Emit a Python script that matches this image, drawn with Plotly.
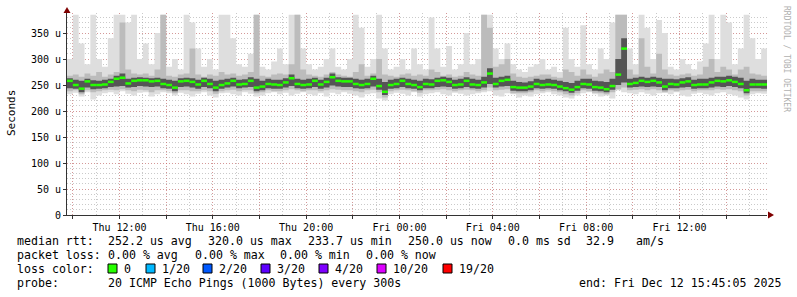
import plotly.graph_objects as go
import pandas as pd

# ---------------- data ----------------
t_start = "2025-12-11 09:45:05"
t_end = "2025-12-12 15:45:05"
step = "15min"

# median rtt (microseconds) per 15-min step
med = [258,250,243,257,250,250,251,256,262,264,253,258,259,259,257,258,252,250,245,257,
       258,256,251,258,252,245,250,253,258,251,252,258,245,247,252,251,250,255,263,252,
       250,251,258,251,256,265,258,257,257,252,250,252,262,248,237,250,252,258,252,250,
       246,252,251,258,259,256,250,251,258,251,250,255,272,252,258,260,246,245,245,247,
       252,250,251,250,247,244,241,246,252,251,246,245,242,248,270,320,252,254,258,256,
       258,255,247,252,251,255,257,250,251,251,255,258,257,259,256,252,240,251,251,251]

# smoke: outer (min..max), middle, inner bands
lo = [232,235,228,236,222,230,234,236,232,238,233,230,235,236,228,232,236,234,230,235,
      232,228,233,236,230,226,234,235,232,230,236,233,228,230,234,236,232,235,230,233,
      236,232,230,234,228,235,232,236,233,230,226,232,234,224,220,232,235,233,230,236,
      228,232,234,236,232,230,235,233,230,232,234,236,238,230,228,234,232,226,230,228,
      232,234,236,232,230,226,224,230,234,236,232,228,230,224,240,236,234,232,236,233,
      230,234,235,232,236,230,228,233,235,232,230,234,236,232,230,226,222,232,234,233]
hi = [300,385,330,290,385,300,285,340,385,385,370,385,300,330,290,350,385,285,300,280,
      385,370,320,285,300,280,385,385,340,290,285,310,385,285,280,295,320,290,385,385,
      320,290,280,285,300,320,285,280,300,385,360,285,300,385,320,280,285,300,280,320,
      290,280,380,320,285,325,280,290,350,290,300,385,385,320,300,330,290,280,275,285,
      290,300,280,285,275,360,300,285,365,290,280,320,300,370,385,385,320,290,385,360,
      300,375,350,285,280,300,290,280,295,330,385,300,385,370,290,320,385,340,300,320]
lo2 = [238,240,232,240,236,238,240,241,240,242,240,238,241,240,236,240,240,238,234,240,
       240,238,238,240,238,233,238,240,241,238,240,240,234,236,240,238,238,240,242,240,
       238,240,240,238,240,242,241,240,240,238,236,240,241,236,226,238,240,241,240,238,
       235,240,240,241,242,240,238,240,241,240,238,240,245,240,241,242,234,234,234,236,
       240,238,240,238,236,232,230,234,240,238,235,234,232,236,242,245,240,241,242,240,
       242,240,236,240,238,240,241,238,240,240,240,242,241,242,240,238,230,238,238,238]
hi2 = [268,270,266,272,268,275,266,270,275,370,280,272,270,272,268,280,385,268,266,270,
       272,320,270,266,270,268,275,270,272,268,270,275,385,268,266,270,272,270,290,385,
       280,270,268,266,270,275,270,268,266,275,290,268,272,300,270,268,266,270,272,268,
       270,268,280,275,268,270,266,268,275,270,268,385,360,285,290,300,272,266,264,266,
       268,270,270,266,264,280,275,268,280,270,266,272,280,275,385,385,280,270,340,285,
       272,310,280,270,268,270,272,268,270,285,300,275,285,280,270,280,285,272,270,268]
lo3 = [244,243,236,245,242,243,244,246,247,248,245,246,248,247,246,247,244,243,238,246,
       247,245,243,246,244,238,243,245,247,244,245,246,238,240,244,243,243,245,248,244,
       243,244,246,243,245,249,247,246,246,244,243,244,247,241,231,243,244,246,244,243,
       240,244,244,246,247,246,243,244,246,244,243,245,252,245,247,248,239,238,238,240,
       244,243,244,243,240,238,235,239,244,243,239,238,236,241,250,255,245,246,247,246,
       247,246,240,244,244,245,246,243,244,244,245,247,246,248,246,244,234,244,244,243]
hi3 = [263,260,258,262,259,258,260,262,268,272,262,264,265,264,263,264,262,260,258,263,
       264,263,260,264,262,258,260,262,264,260,261,265,262,258,262,260,260,263,270,262,
       260,262,264,260,264,272,265,264,264,262,260,262,268,262,256,260,262,264,262,260,
       258,262,261,264,266,264,260,262,265,262,260,266,282,264,266,268,258,256,255,257,
       262,260,262,260,258,256,254,258,262,262,258,257,256,262,300,340,262,264,266,264,
       266,264,262,262,261,263,265,260,262,262,264,266,266,268,266,264,258,262,260,260]

x_tick_vals = ["2025-12-11 10:00", "2025-12-11 12:00", "2025-12-11 14:00", "2025-12-11 16:00",
               "2025-12-11 18:00", "2025-12-11 20:00", "2025-12-11 22:00", "2025-12-12 00:00",
               "2025-12-12 02:00", "2025-12-12 04:00", "2025-12-12 06:00", "2025-12-12 08:00",
               "2025-12-12 10:00", "2025-12-12 12:00", "2025-12-12 14:00"]
x_tick_text = ["", "Thu 12:00", "", "Thu 16:00", "", "Thu 20:00", "", "Fri 00:00",
               "", "Fri 04:00", "", "Fri 08:00", "", "Fri 12:00", ""]
y_tick_vals = [0, 50, 100, 150, 200, 250, 300, 350]
y_tick_text = ["0", "50 u", "100 u", "150 u", "200 u", "250 u", "300 u", "350 u"]

loss_labels = ["0", "1/20", "2/20", "3/20", "4/20", "10/20", "19/20"]
loss_colors = ["#26ff00", "#00b8ff", "#0059ff", "#5e00ff", "#7e00ff", "#dd00ff", "#ff0000"]

line1 = [("median rtt:", 16), ("252.2 us avg", 107), ("320.0 us max", 207), ("233.7 us min", 307),
         ("250.0 us now", 407), ("0.0 ms sd", 507), ("32.9", 585), ("am/s", 635)]
line2 = [("packet loss:", 16), ("0.00 % avg", 107), ("0.00 % max", 194), ("0.00 % min", 279),
         ("0.00 % now", 365)]
line4 = [("probe:", 16), ("20 ICMP Echo Pings (1000 Bytes) every 300s", 107),
         ("end: Fri Dec 12 15:45:05 2025", 578)]

# ---------------- geometry helpers ----------------
W, H = 797, 297
L, R, T, B = 67, 30, 13, 82
PW, PH = W - L - R, H - T - B
MONO = "DejaVu Sans Mono"


def px(x):
    return (x - L) / PW


def py(y):
    return (H - B - y) / PH


times = pd.date_range(t_start, periods=len(med) + 1, freq=step)


def ext(a):
    return list(a) + [a[-1]]


fig = go.Figure()


def band(lower, upper, color):
    fig.add_trace(go.Scatter(x=times, y=ext(lower), mode="lines", line=dict(width=0, shape="hv"),
                             hoverinfo="skip", showlegend=False))
    fig.add_trace(go.Scatter(x=times, y=ext(upper), mode="lines", line=dict(width=0, shape="hv"),
                             fill="tonexty", fillcolor=color, hoverinfo="skip", showlegend=False))


band(lo, hi, "#dedede")
band(lo2, hi2, "#bcbcbc")
band(lo3, hi3, "#555555")

# median: horizontal segments per step (no vertical connectors)
mx, my = [], []
for i, v in enumerate(med):
    mx += [times[i], times[i + 1], None]
    my += [v, v, None]
fig.add_trace(go.Scatter(x=mx, y=my, mode="lines", connectgaps=False,
                         line=dict(color=loss_colors[0], width=2.5),
                         showlegend=False))

grid_major = "rgba(225,90,90,0.45)"
grid_minor = "rgba(150,150,150,0.5)"

fig.update_layout(
    width=W, height=H,
    margin=dict(l=L, r=R, t=T, b=B, pad=0),
    paper_bgcolor="white", plot_bgcolor="white",
    showlegend=False,
    font=dict(family=MONO, size=11, color="black"),
    xaxis=dict(
        type="date", range=[t_start, t_end],
        tickmode="array", tickvals=x_tick_vals, ticktext=x_tick_text,
        ticks="outside", ticklen=3, tickcolor="#333", tickwidth=1,
        tickfont=dict(family=MONO, size=10, color="black"),
        showgrid=True, gridcolor=grid_major, griddash="1px,2px", gridwidth=1,
        minor=dict(tickmode="array",
                   tickvals=list(pd.date_range("2025-12-11 10:00", "2025-12-12 15:00", freq="1h")),
                   showgrid=True, gridcolor=grid_minor, griddash="1px,2px", gridwidth=1),
        showline=True, linecolor="#333", linewidth=1, zeroline=False, fixedrange=True,
    ),
    yaxis=dict(
        range=[0, 388.5],
        tickmode="array", tickvals=y_tick_vals, ticktext=y_tick_text,
        ticks="outside", ticklen=3, tickcolor="#333", tickwidth=1,
        tickfont=dict(family=MONO, size=10, color="black"),
        showgrid=True, gridcolor=grid_major, griddash="1px,2px", gridwidth=1,
        minor=dict(tickmode="linear", tick0=0, dtick=10,
                   showgrid=True, gridcolor=grid_minor, griddash="1px,2px", gridwidth=1),
        showline=True, linecolor="#333", linewidth=1, zeroline=False, fixedrange=True,
    ),
)

ann = []
shapes = []

# axis title & watermark
ann.append(dict(text="Seconds", x=px(11), y=py(113), xref="paper", yref="paper",
                showarrow=False, textangle=-90, font=dict(family=MONO, size=11, color="black"),
                xanchor="center", yanchor="middle"))
ann.append(dict(text="RRDTOOL / TOBI OETIKER", x=px(786), y=py(59), xref="paper", yref="paper",
                showarrow=False, textangle=90, font=dict(family=MONO, size=8, color="#b0b0b0"),
                xanchor="center", yanchor="middle"))


def text_line(items, yc):
    for txt, x0 in items:
        ann.append(dict(text=txt, x=px(x0), y=py(yc), xref="paper", yref="paper",
                        showarrow=False, xanchor="left", yanchor="middle", borderpad=0,
                        font=dict(family=MONO, size=11.6, color="black")))


text_line(line1, 241)
text_line(line2, 255)
text_line([("loss color:", 16)], 269)
text_line(line4, 283)

sq_x = [108, 146, 203, 261, 319, 377, 443]
for lab, col, sx in zip(loss_labels, loss_colors, sq_x):
    shapes.append(dict(type="rect", xref="paper", yref="paper",
                       x0=px(sx), x1=px(sx + 9), y0=py(273), y1=py(264),
                       fillcolor=col, line=dict(color="black", width=1)))
    text_line([(lab, sx + 15)], 269)

# axis arrows
arrow_col = "#7f0000"
shapes.append(dict(type="path", xref="paper", yref="paper",
                   path=f"M {px(63.5)} {py(13)} L {px(67)} {py(7)} L {px(70.5)} {py(13)} Z",
                   fillcolor=arrow_col, line=dict(color=arrow_col, width=0)))
shapes.append(dict(type="path", xref="paper", yref="paper",
                   path=f"M {px(768)} {py(211.5)} L {px(774)} {py(215)} L {px(768)} {py(218.5)} Z",
                   fillcolor=arrow_col, line=dict(color=arrow_col, width=0)))

fig.update_layout(annotations=ann, shapes=shapes)
fig.write_html("out.html")
